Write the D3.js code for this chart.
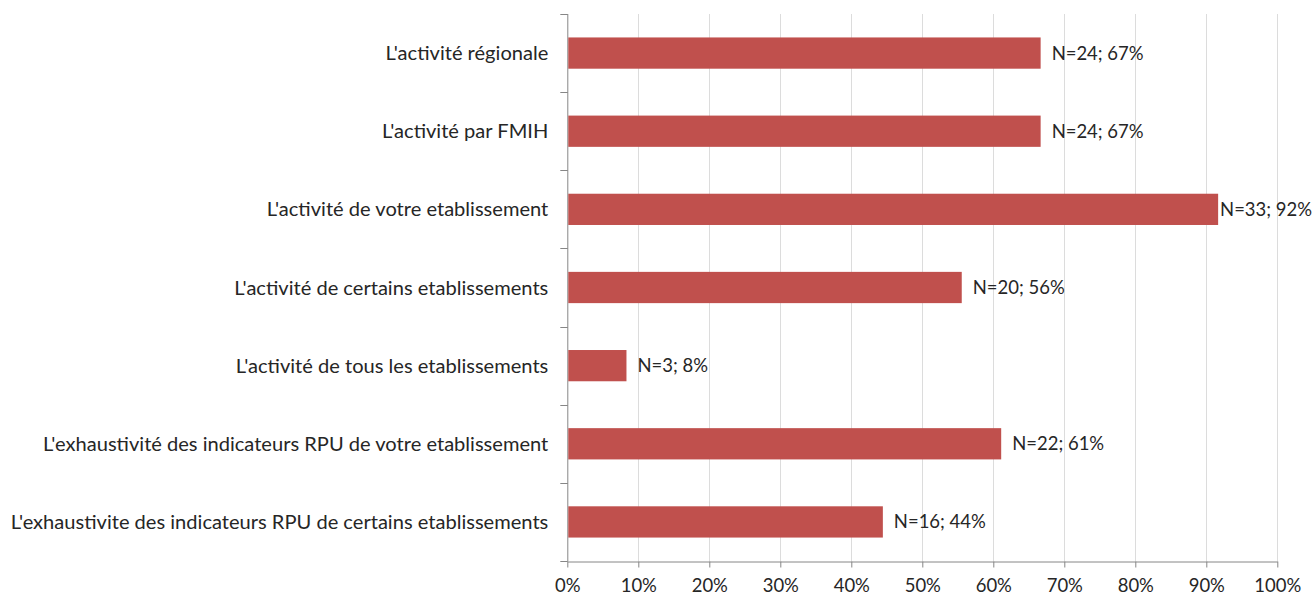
<!DOCTYPE html>
<html><head><meta charset="utf-8">
<script src="https://cdn.jsdelivr.net/npm/d3@7/dist/d3.min.js"></script>
<style>body{margin:0;background:#fff;} text{font-family:Lato,"Open Sans",sans-serif;}</style>
</head><body><svg id="c" width="1316" height="598"></svg>
<script>
const categories = ["L'activité régionale","L'activité par FMIH","L'activité de votre etablissement","L'activité de certains etablissements","L'activité de tous les etablissements","L'exhaustivité des indicateurs RPU de votre etablissement","L'exhaustivite des indicateurs RPU de certains etablissements"];
const counts = [24,24,33,20,3,22,16];
const total = 36;
const percents = [67,67,92,56,8,61,44];
const xTicks = [0,0.1,0.2,0.3,0.4,0.5,0.6,0.7,0.8,0.9,1.0];

const svg = d3.select("#c");
const pLeft = 567.3, pRight = 1277.3, pTop = 14, pBottom = 561;
const x = d3.scaleLinear().domain([0,1]).range([pLeft,pRight]);
const y = d3.scaleBand().domain(categories).range([pTop,pBottom]).paddingInner(0.6).paddingOuter(0.3);

// font sizes fitted so text spans like the reference
const probe = svg.append("text").attr("font-size",20).text(categories[6]);
const fs = 20 * 538 / probe.node().getComputedTextLength();
probe.text("N=24; 67%");
const fsNum = 20 * 92 / probe.node().getComputedTextLength();
probe.remove();

// gridlines
svg.append("g").selectAll("line").data(xTicks.slice(1)).join("line")
  .attr("x1",d=>Math.round(x(d))+0.5).attr("x2",d=>Math.round(x(d))+0.5)
  .attr("y1",pTop).attr("y2",pBottom).attr("stroke","#dcdcdc").attr("stroke-width",1);

// x axis
const xa = svg.append("g").attr("transform",`translate(0,${pBottom+0.5})`)
  .call(d3.axisBottom(x).tickValues(xTicks).tickFormat(d3.format(".0%")).tickSize(6).tickSizeOuter(0));
xa.select(".domain").attr("stroke","#868686");
xa.selectAll(".tick line").attr("stroke","#868686");
xa.selectAll("text").attr("font-size",fsNum).attr("fill","#262626").attr("y",24).attr("dy","0.35em").attr("font-family",null);

// y axis
const yEdges = d3.range(categories.length+1).map(i=>pTop + i*(pBottom-pTop)/categories.length);
const ya = svg.append("g");
ya.append("line").attr("x1",pLeft+0.5).attr("x2",pLeft+0.5).attr("y1",pTop).attr("y2",pBottom).attr("stroke","#868686");
ya.selectAll("line.t").data(yEdges).join("line").attr("class","t")
  .attr("x1",pLeft-7).attr("x2",pLeft+0.5).attr("y1",d=>Math.round(d)+0.5).attr("y2",d=>Math.round(d)+0.5).attr("stroke","#868686");
ya.selectAll("text").data(categories).join("text")
  .attr("x",pLeft-19).attr("y",d=>y(d)+y.bandwidth()/2).attr("dy","0.35em")
  .attr("text-anchor","end").attr("font-size",fs).attr("fill","#262626").text(d=>d);

// bars
svg.append("g").selectAll("rect").data(categories).join("rect")
  .attr("x",pLeft+1).attr("y",(d)=>y(d)).attr("height",y.bandwidth())
  .attr("width",(d,i)=>x(counts[i]/total)-pLeft-1).attr("fill","#C0504D");

// labels
svg.append("g").selectAll("text").data(categories).join("text")
  .attr("y",d=>y(d)+y.bandwidth()/2).attr("dy","0.35em")
  .attr("font-size",fsNum).attr("fill","#262626")
  .text((d,i)=>`N=${counts[i]}; ${percents[i]}%`)
  .each(function(d,i){
    const w = this.getComputedTextLength();
    const px = Math.min(x(counts[i]/total)+11, 1312 - w);
    d3.select(this).attr("x", px);
  });
</script></body></html>
